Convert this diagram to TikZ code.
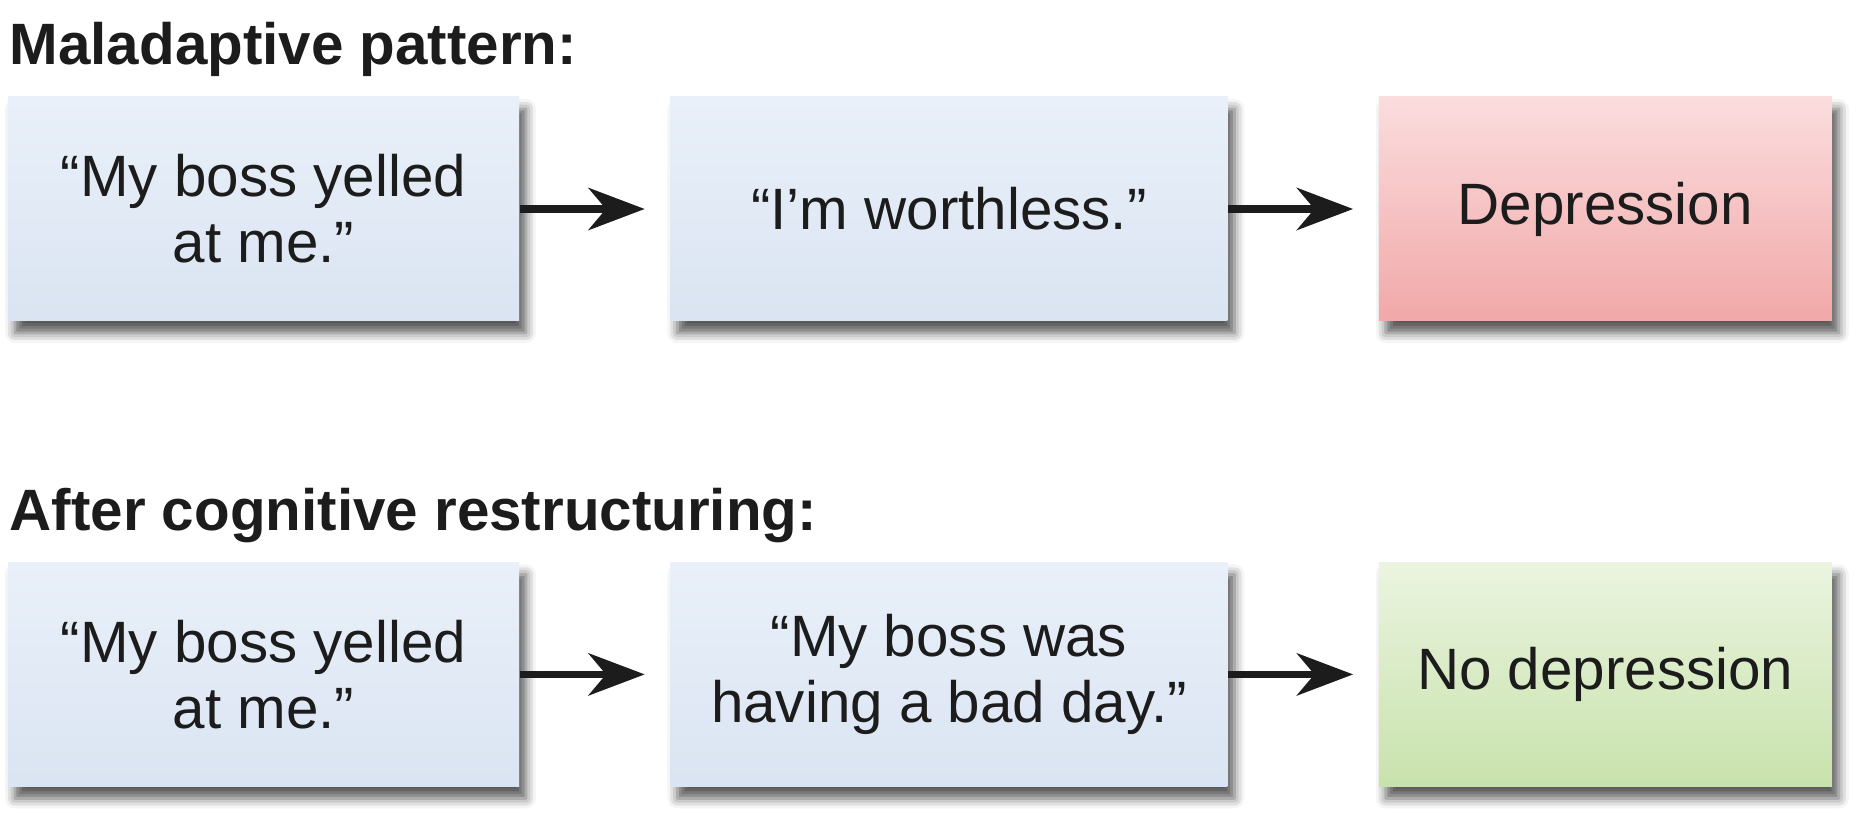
\documentclass[tikz,border=0pt]{standalone}
\usepackage{fontspec}
\setmainfont{Liberation Sans}
\usetikzlibrary{positioning, arrows.meta, shadows.blur}
\definecolor{txt}{HTML}{1C1C1C}
\tikzset{
    flow/.style={-{Stealth[length=16pt, width=12pt, inset=5pt]}, line width=2.1pt, txt, shorten >=0.25cm}, % arrows between boxes
    box/.style={rectangle, minimum height=2.24cm, inner sep=0pt, align=center, text=txt,
        font=\fontsize{16.6}{18.8}\selectfont,
        blur shadow={shadow xshift=0.07cm, shadow yshift=-0.12cm, shadow blur radius=0.1cm, shadow opacity=65}}, % every box
    thought/.style={box, top color={rgb,255:red,233;green,240;blue,249}, bottom color={rgb,255:red,218;green,228;blue,242}}, % blue boxes
    bad/.style={box, top color={rgb,255:red,251;green,221;blue,222}, bottom color={rgb,255:red,241;green,168;blue,168}}, % red box
    good/.style={box, top color={rgb,255:red,235;green,244;blue,224}, bottom color={rgb,255:red,200;green,226;blue,172}}, % green box
    heading/.style={anchor=base west, inner sep=0pt, text=txt, font=\fontsize{16.6}{18.8}\selectfont\bfseries}, % row titles
}

\begin{document}
\begin{tikzpicture}
    \useasboundingbox (0,0) rectangle (18.61,-8.23);

    % maladaptive pattern
    \node[heading] (h1) at (0.09,-0.65) {Maladaptive pattern:};
    \node[thought, minimum width=5.11cm] (a1) at (2.635,-2.09) {“My boss yelled\\at me.”};
    \node[thought, minimum width=5.57cm, right=1.5cm of a1] (b1) {“I’m worthless.”};
    \node[bad, minimum width=4.53cm, right=1.5cm of b1] (c1) {Depression};

    % after restructuring
    \node[heading] (h2) at (0.09,-5.30) {After cognitive restructuring:};
    \node[thought, minimum width=5.11cm, below=2.4cm of a1] (a2) {“My boss yelled\\at me.”};
    \node[thought, minimum width=5.57cm, right=1.5cm of a2] (b2) {“My boss was\\having a bad day.”};
    \node[good, minimum width=4.53cm, right=1.5cm of b2] (c2) {No depression};

    \draw[flow] (a1) -- (b1);
    \draw[flow] (b1) -- (c1);
    \draw[flow] (a2) -- (b2);
    \draw[flow] (b2) -- (c2);
\end{tikzpicture}
\end{document}
